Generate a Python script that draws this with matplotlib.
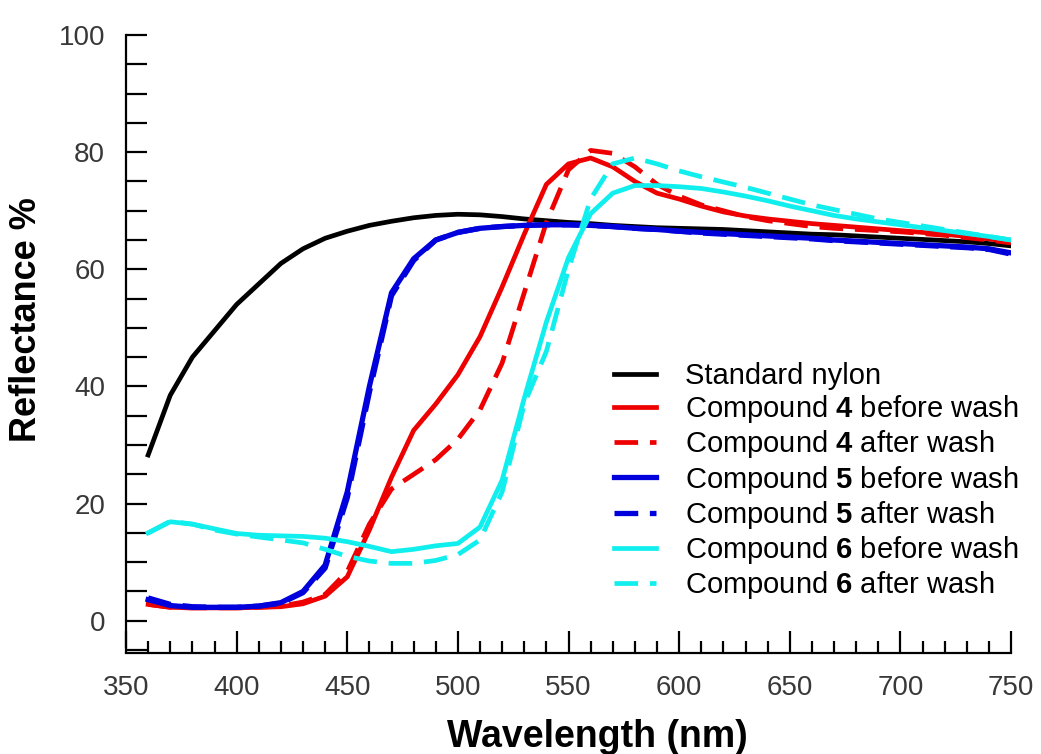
import numpy as np
import matplotlib
matplotlib.use("Agg")
from matplotlib import pyplot as plt
from matplotlib.ticker import MultipleLocator

plt.rcParams["font.family"] = ["Liberation Sans", "DejaVu Sans"]
plt.rcParams["mathtext.fontset"] = "custom"
plt.rcParams["mathtext.rm"] = "Liberation Sans"
plt.rcParams["mathtext.bf"] = "Liberation Sans:bold"

wavelength = list(range(360, 751, 10))

nylon = [28.3, 38.5, 45, 49.5, 54, 57.5, 61, 63.5, 65.3, 66.5,
         67.5, 68.2, 68.8, 69.2, 69.4, 69.3, 69.0, 68.6, 68.3, 68.0,
         67.8, 67.5, 67.3, 67.1, 67.0, 66.9, 66.8, 66.6, 66.4, 66.2,
         66.0, 65.9, 65.7, 65.5, 65.3, 65.1, 64.9, 64.7, 64.4, 64.0]

c4_before = [2.8, 2.3, 2.2, 2.2, 2.2, 2.3, 2.4, 2.9, 4.2, 7.5,
             15.5, 24.5, 32.5, 37, 42, 48.5, 57, 66, 74.5, 78,
             79, 77.5, 75, 73, 72, 70.8, 69.8, 69.1, 68.6, 68.2,
             67.8, 67.5, 67.2, 66.9, 66.6, 66.3, 66.0, 65.6, 65.2, 64.6]

c4_after = [2.8, 2.3, 2.2, 2.2, 2.2, 2.3, 2.5, 3.2, 4.5, 8.4,
            16.5, 22.5, 25, 27.5, 31, 36, 44, 56, 68, 77,
            80.3, 79.8, 77.5, 74.5, 72.5, 71, 70, 69, 68.3, 67.8,
            67.3, 67.0, 66.8, 66.6, 66.4, 66.1, 65.8, 65.4, 65.0, 64.5]

c5_before = [3.6, 2.6, 2.3, 2.3, 2.3, 2.5, 3.1, 5, 9.5, 22,
             40, 56, 61.8, 65, 66.3, 67, 67.3, 67.5, 67.6, 67.6,
             67.5, 67.3, 67.0, 66.8, 66.5, 66.3, 66.1, 65.9, 65.7, 65.5,
             65.3, 65.0, 64.8, 64.6, 64.4, 64.2, 64.0, 63.8, 63.5, 62.8]

c5_after = [3.9, 2.8, 2.4, 2.3, 2.3, 2.5, 3.0, 4.8, 9.0, 21,
            39, 55.5, 61.5, 65, 66.3, 67, 67.3, 67.5, 67.6, 67.6,
            67.5, 67.3, 67.0, 66.8, 66.5, 66.2, 66.0, 65.8, 65.6, 65.4,
            65.2, 64.9, 64.7, 64.5, 64.3, 64.1, 63.9, 63.7, 63.4, 62.6]

c6_before = [15, 16.9, 16.5, 15.7, 14.9, 14.6, 14.5, 14.4, 14.1, 13.5,
             12.7, 11.8, 12.2, 12.8, 13.2, 16, 24, 38, 51, 62,
             69.5, 73, 74.3, 74.3, 74.1, 73.8, 73.2, 72.5, 71.7, 70.8,
             70.0, 69.2, 68.6, 68.1, 67.6, 67.1, 66.6, 66.1, 65.6, 65.0]

c6_after = [15, 17, 16.5, 15.5, 14.8, 14.3, 13.8, 13.3, 12.2, 11,
            10.2, 9.8, 9.8, 10.3, 11.3, 13.8, 22, 37, 46, 60,
            72, 78, 79, 78, 76.8, 75.8, 74.9, 74, 73, 72,
            71, 70.2, 69.4, 68.6, 68, 67.4, 66.8, 66.2, 65.6, 65.0]

labels = ["Standard nylon",
          r"Compound $\mathbf{4}$ before wash",
          r"Compound $\mathbf{4}$ after wash",
          r"Compound $\mathbf{5}$ before wash",
          r"Compound $\mathbf{5}$ after wash",
          r"Compound $\mathbf{6}$ before wash",
          r"Compound $\mathbf{6}$ after wash"]

fig = plt.figure(figsize=(10.41, 7.54), dpi=100)
ax = fig.add_axes([126 / 1041, 1 - 653 / 754, 885 / 1041, 618 / 754])

red = "#ee0000"
blue = "#0000dd"
cyan = "#11eeee"
dash = (5, 2.5)
lw = 3.4

ax.plot(wavelength, nylon, color="black", lw=lw, label=labels[0])
ax.plot(wavelength, c4_before, color=red, lw=lw, label=labels[1])
ax.plot(wavelength, c4_after, color=red, lw=lw, dashes=dash, label=labels[2])
ax.plot(wavelength, c5_before, color=blue, lw=3.8, label=labels[3])
ax.plot(wavelength, c5_after, color=blue, lw=3.8, dashes=(4.5, 2.2), label=labels[4])
ax.plot(wavelength, c6_before, color=cyan, lw=lw, label=labels[5])
ax.plot(wavelength, c6_after, color=cyan, lw=lw, dashes=dash, label=labels[6])

ax.set_xlim(350, 750)
ax.set_ylim(-5.5, 100)
ax.spines["top"].set_visible(False)
ax.spines["right"].set_visible(False)
ax.spines["left"].set_linewidth(1.6)
ax.spines["bottom"].set_linewidth(1.6)
ax.spines["left"].set_bounds(-4.5, 100)

ax.xaxis.set_major_locator(MultipleLocator(50))
ax.xaxis.set_minor_locator(MultipleLocator(10))
ax.yaxis.set_major_locator(MultipleLocator(20))
ax.yaxis.set_minor_locator(MultipleLocator(5))
ax.tick_params(axis="x", which="major", direction="in", length=16, width=1.6,
               pad=16, labelsize=20, labelcolor="#383838")
ax.tick_params(axis="x", which="minor", direction="in", length=9, width=1.6)
ax.tick_params(axis="y", which="major", direction="in", length=15, width=1.6,
               pad=15, labelsize=20, labelcolor="#383838")
ax.tick_params(axis="y", which="minor", direction="in", length=15, width=1.6)

ax.set_xlabel("Wavelength (nm)", fontsize=27, fontweight="bold", va="baseline")
ax.xaxis.set_label_coords(0.533, -0.152)
ax.set_ylabel("Reflectance %", fontsize=26, fontweight="bold", va="center")
ax.yaxis.set_label_coords(-0.112, 0.539)

ax.legend(loc="upper left", bbox_to_anchor=(614 / 1041, 1 - 362 / 754),
          bbox_transform=fig.transFigure, frameon=False, fontsize=21,
          handlelength=1.45, handletextpad=1.0, labelspacing=0.11,
          borderpad=0, borderaxespad=0)

fig.savefig("out.png", dpi=100)
